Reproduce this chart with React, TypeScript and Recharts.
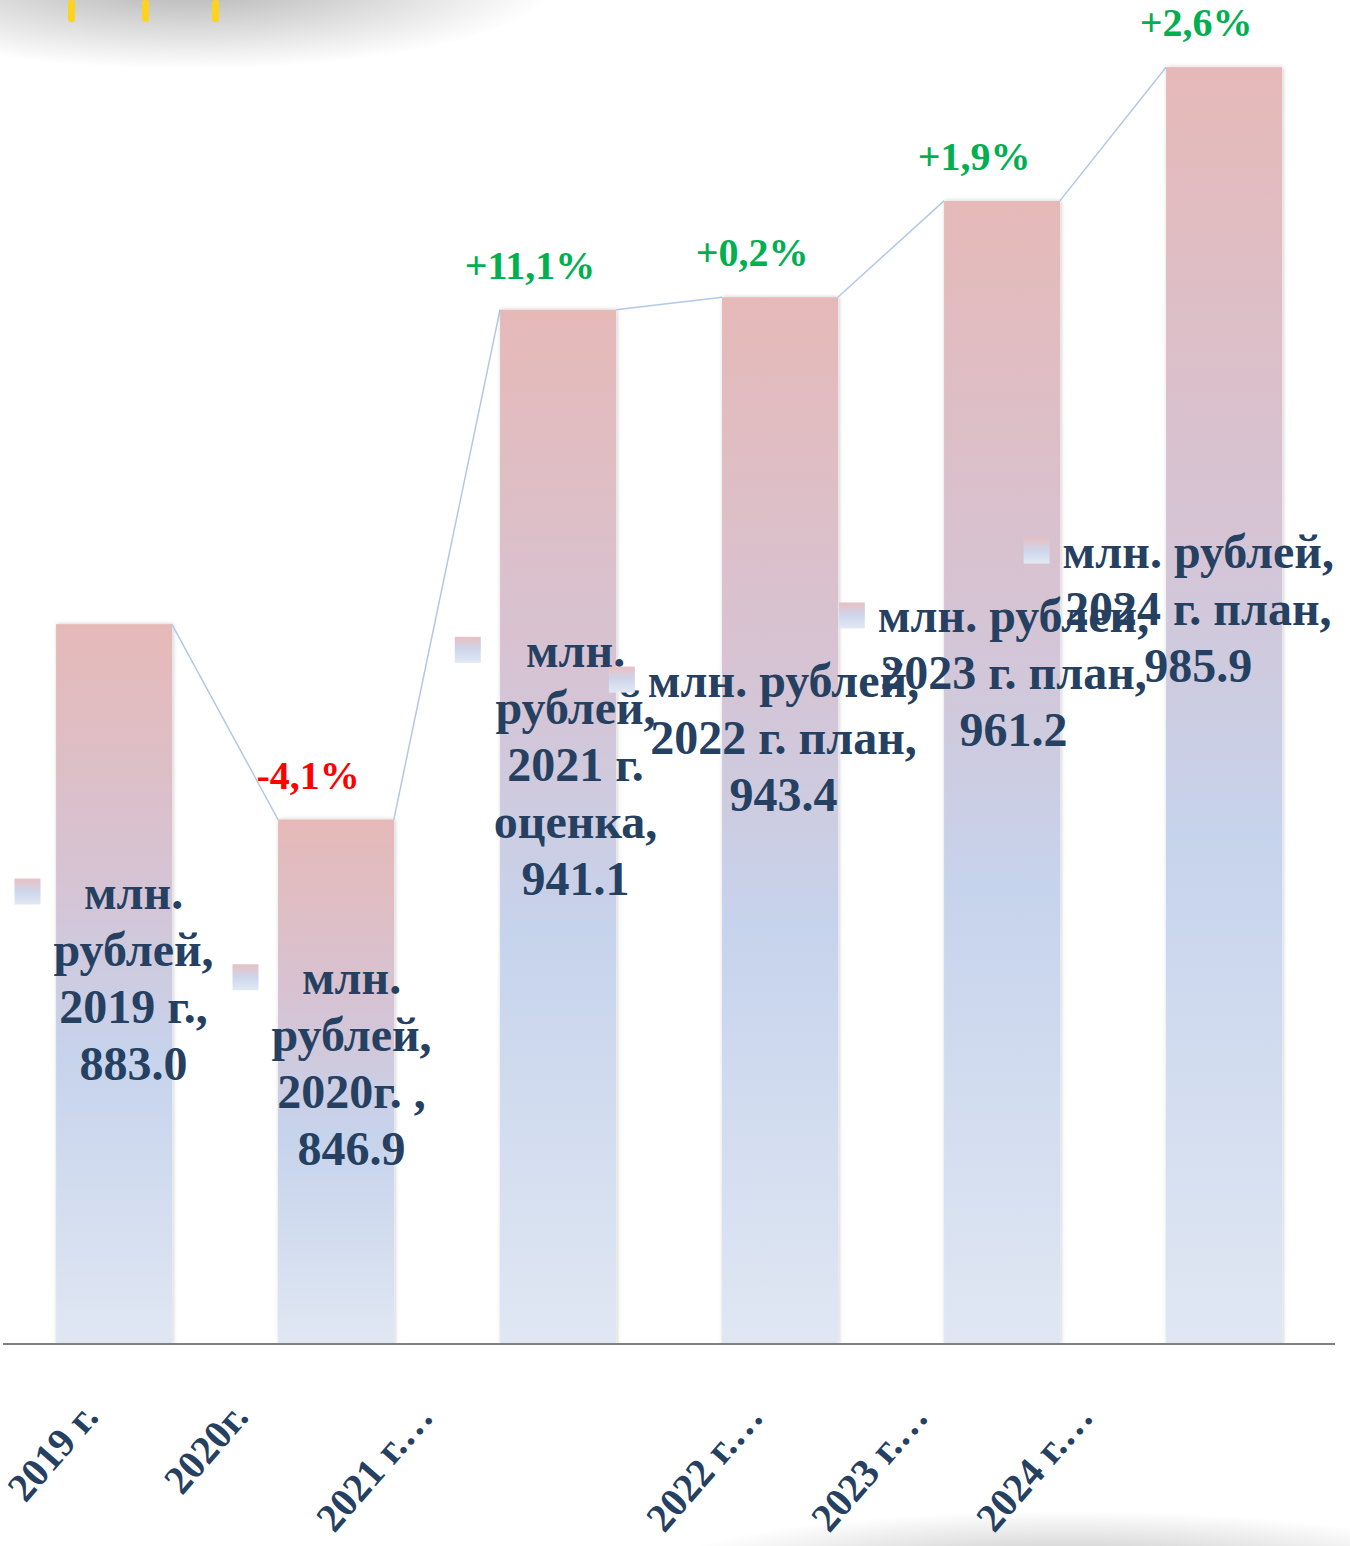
import React from "react";
import { BarChart, Bar, XAxis, YAxis, LabelList } from "recharts";

const categories = ["2019 г.", "2020г. ", "2021 г. оценка", "2022 г. план", "2023 г. план", "2024 г. план"];
const tickLabels = ["2019 г.", "2020г.", "2021 г.…", "2022 г.…", "2023 г.…", "2024 г.…"];
const values = [883.0, 846.9, 941.1, 943.4, 961.2, 985.9];
const changes = ["", "-4,1%", "+11,1%", "+0,2%", "+1,9%", "+2,6%"];
const seriesName = "млн. рублей";

// hand-placed label offsets (the labels were dragged around in the original)
const labelShift = [10, -2, -46, -67, -83, -81];
const labelShiftX = [0, -4, -2, -16, -8, -2];
const labelWrap = [180, 180, 180, 300, 300, 300];
const tickShift = [-14, -86, -123, -15, -72, -129];

const W = 1350;
const H = 1546;
const Y_MIN = 750;
const Y_MAX = 990;
const GAP = 0.239;
const LINE = 57;
const LABEL_SIZE = 48;
const NAVY = "#254061";
const FONT = '"Liberation Serif", "Times New Roman", serif';

const data = categories.map((c, i) => ({ name: c, tick: tickLabels[i], value: values[i], change: changes[i] }));

let ctx: CanvasRenderingContext2D | null = null;
function measure(s: string) {
  if (!ctx) ctx = document.createElement("canvas").getContext("2d");
  ctx!.font = `bold ${LABEL_SIZE}px ${FONT}`;
  return ctx!.measureText(s).width;
}

function wrap(text: string, maxW: number) {
  const words = text.split(" ");
  const lines: string[] = [];
  let cur = "";
  for (const w of words) {
    const t = cur ? cur + " " + w : w;
    if (cur && measure(t) > maxW) {
      lines.push(cur);
      cur = w;
    } else cur = t;
  }
  if (cur) lines.push(cur);
  return lines;
}

function BarShape(props: any) {
  const { x, y, width, height, index } = props;
  const k = height / (values[index] - Y_MIN);
  const base = y + height;
  let connector = null;
  if (index > 0) {
    const step = width / (1 - 2 * GAP);
    const px = x - (step - width);
    const py = base - (values[index - 1] - Y_MIN) * k;
    connector = <line x1={px} y1={py} x2={x} y2={y} stroke="#B4C7E7" strokeWidth={1.5} />;
  }
  return (
    <g>
      {connector}
      <rect x={x} y={y} width={width} height={height} fill="url(#barGrad)" filter="url(#barShadow)" />
    </g>
  );
}

function box(props: any) {
  const vb = props.viewBox || {};
  return {
    x: props.x ?? vb.x,
    y: props.y ?? vb.y,
    width: props.width ?? vb.width,
    height: props.height ?? vb.height,
  };
}

function ValueLabel(props: any) {
  const { index } = props;
  const { x, y, width, height } = box(props);
  const text = `${seriesName}, ${categories[index]}, ${values[index].toFixed(1)}`;
  const lines = wrap(text, labelWrap[index]);
  const tw = Math.max(...lines.map(measure));
  const key = 26;
  const gap = 13;
  const total = key + gap + tw;
  let left = x + width / 2 - total / 2 + labelShiftX[index];
  if (left + total > W - 14) left = W - 14 - total + labelShiftX[index];
  const cx = left + key + gap + tw / 2;
  const mid = y + height / 2 + labelShift[index];
  const first = mid - ((lines.length - 1) * LINE) / 2;
  return (
    <g>
      <rect x={left} y={first - 17 - key / 2} width={key} height={key} fill="url(#keyGrad)" />
      <text textAnchor="middle" fill={NAVY} fontFamily={FONT} fontWeight="bold" fontSize={LABEL_SIZE}>
        {lines.map((l, j) => (
          <tspan key={j} x={cx} y={first + j * LINE}>{l}</tspan>
        ))}
      </text>
    </g>
  );
}

function ChangeLabel(props: any) {
  const { index } = props;
  const { x, y, width } = box(props);
  const s = changes[index];
  if (!s) return null;
  return (
    <text x={x + width / 2 - 28} y={y - 31} textAnchor="middle" fill={s.startsWith("-") ? "#FF0000" : "#00B050"}
      fontFamily={FONT} fontWeight="bold" fontSize={40}>
      {s}
    </text>
  );
}

function Tick(props: any) {
  const { x, y, index } = props;
  const ex = x + tickShift[index];
  const ey = y + 66;
  return (
    <text x={ex} y={ey} transform={`rotate(-49, ${ex}, ${ey})`} textAnchor="end" fill={NAVY}
      fontFamily={FONT} fontWeight="bold" fontSize={40}>
      {tickLabels[index]}
    </text>
  );
}

export default function App() {
  return (
    <div style={{ position: "relative", width: W, height: H, background: "#fff", overflow: "hidden" }}>
      <style>{`body{margin:0}`}</style>
      {/* bits of the slide background */}
      <div style={{ position: "absolute", left: -60, top: -40, width: 620, height: 110,
        background: "radial-gradient(ellipse at 40% 20%, rgba(150,150,150,0.75), rgba(255,255,255,0) 70%)" }} />
      {[68, 142, 212].map(l => (
        <div key={l} style={{ position: "absolute", left: l, top: 0, width: 7, height: 22, background: "#FFD21F", borderRadius: 3 }} />
      ))}
      <div style={{ position: "absolute", left: 650, top: 1510, width: 760, height: 70,
        background: "radial-gradient(ellipse at 55% 90%, rgba(150,150,150,0.6), rgba(255,255,255,0) 70%)" }} />
      <div style={{ position: "absolute", left: 0, top: 0 }}>
        <BarChart width={W} height={H} data={data} margin={{ top: 45, right: 15, left: 3, bottom: 0 }}
          barCategoryGap={`${GAP * 100}%`}>
          <defs>
            <linearGradient id="barGrad" x1="0" y1="0" x2="0" y2="1">
              <stop offset="0%" stopColor="#E6B9B8" />
              <stop offset="35%" stopColor="#D6C3D3" />
              <stop offset="60%" stopColor="#C6D3EC" />
              <stop offset="100%" stopColor="#E0E7F3" />
            </linearGradient>
            <linearGradient id="keyGrad" x1="0" y1="0" x2="0" y2="1">
              <stop offset="0%" stopColor="#E8C0C2" />
              <stop offset="50%" stopColor="#CDD6EC" />
              <stop offset="100%" stopColor="#E2E9F4" />
            </linearGradient>
            <filter id="barShadow" x="-10%" y="-5%" width="120%" height="110%">
              <feDropShadow dx="1" dy="0" stdDeviation="2" floodColor="#000" floodOpacity="0.22" />
            </filter>
          </defs>
          <XAxis dataKey="name" height={202} tickLine={false} interval={0} tick={<Tick />}
            axisLine={{ stroke: "#808080", strokeWidth: 2 }} />
          <YAxis hide domain={[Y_MIN, Y_MAX]} allowDataOverflow />
          <Bar dataKey="value" shape={<BarShape />} isAnimationActive={false}>
            <LabelList dataKey="value" content={<ValueLabel />} />
            <LabelList dataKey="change" content={<ChangeLabel />} />
          </Bar>
        </BarChart>
      </div>
    </div>
  );
}
